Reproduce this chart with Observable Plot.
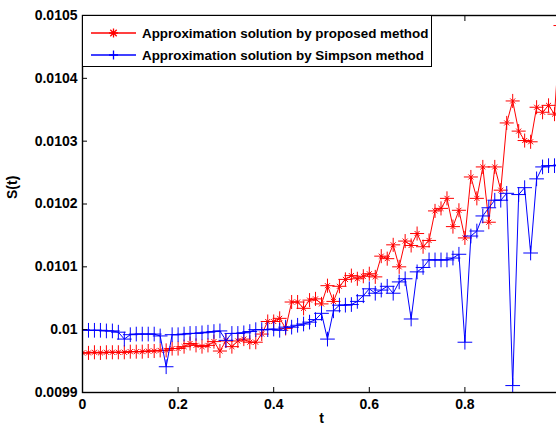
<!DOCTYPE html>
<html>
<head>
<meta charset="utf-8">
<script src="https://cdn.jsdelivr.net/npm/d3@7"></script>
<script src="https://cdn.jsdelivr.net/npm/@observablehq/plot@0.6"></script>
<style>
  html, body { margin: 0; padding: 0; background: #fff; overflow: hidden; }
  #wrap { position: relative; width: 556px; height: 429px; overflow: hidden; background: #fff; }
  #chart { position: absolute; left: 0; top: 0; width: 560px; height: 429px; }
  #chart svg { max-width: none !important; width: 560px; height: 429px; }
  #legend { position: absolute; left: 82px; top: 15px; width: 350px; height: 52px; box-sizing: border-box;
            border: 1.4px solid #000; background: #fff; font: bold 13.4px "Liberation Sans", Arial, sans-serif; color: #000; }
  .row { position: absolute; left: 0; height: 20px; display: flex; align-items: center; white-space: nowrap; }
  .row svg { margin-left: 8px; margin-right: 5px; }
</style>
</head>
<body>
<div id="wrap">
  <div id="chart"></div>
  <div id="legend"></div>
</div>
<script>
// t grid
const tValues = [0, 0.0125, 0.025, 0.0375, 0.05, 0.0625, 0.075, 0.0875, 0.1, 0.1125,
  0.125, 0.1375, 0.15, 0.1625, 0.175, 0.1875, 0.2, 0.2125, 0.225, 0.2375,
  0.25, 0.2625, 0.275, 0.2875, 0.3, 0.3125, 0.325, 0.3375, 0.35, 0.3625,
  0.375, 0.3875, 0.4, 0.4125, 0.425, 0.4375, 0.45, 0.4625, 0.475, 0.4875,
  0.5, 0.5125, 0.525, 0.5375, 0.55, 0.5625, 0.575, 0.5875, 0.6, 0.6125,
  0.625, 0.6375, 0.65, 0.6625, 0.675, 0.6875, 0.7, 0.7125, 0.725, 0.7375,
  0.75, 0.7625, 0.775, 0.7875, 0.8, 0.8125, 0.825, 0.8375, 0.85, 0.8625,
  0.875, 0.8875, 0.9, 0.9125, 0.925, 0.9375, 0.95, 0.9625, 0.975, 0.9875, 1.0];

// Approximation solution by proposed method (red)
const proposedValues = [0.009963, 0.009963, 0.009964, 0.009963, 0.009964, 0.009964, 0.009964, 0.009964, 0.009965, 0.009965,
  0.009965, 0.009966, 0.009966, 0.009967, 0.009967, 0.009970, 0.009970, 0.009973, 0.009978, 0.009975,
  0.009973, 0.009975, 0.009981, 0.009966, 0.009982, 0.009973, 0.009982, 0.009985, 0.009980, 0.009980,
  0.009993, 0.010013, 0.010013, 0.010018, 0.010002, 0.010044, 0.010044, 0.010034, 0.010047, 0.010049,
  0.010041, 0.010070, 0.010045, 0.010069, 0.010080, 0.010086, 0.010081, 0.010085, 0.010089, 0.010084,
  0.010117, 0.010113, 0.010135, 0.010100, 0.010141, 0.010134, 0.010153, 0.010132, 0.010142, 0.010189,
  0.010193, 0.010209, 0.010164, 0.010190, 0.010146, 0.010243, 0.010209, 0.010259, 0.010171, 0.010259,
  0.010222, 0.010329, 0.010364, 0.010316, 0.010301, 0.010299, 0.010354, 0.010346, 0.010357, 0.010343,
  0.010484];

// Approximation solution by Simpson method (blue)
const simpsonValues = [0.010000, 0.009999, 0.009999, 0.009999, 0.009998, 0.009998, 0.009996, 0.009985, 0.009992, 0.009993,
  0.009993, 0.009993, 0.009993, 0.009990, 0.009941, 0.009992, 0.009992, 0.009993, 0.009994, 0.009994,
  0.009995, 0.009996, 0.009997, 0.009998, 0.009983, 0.009994, 0.009994, 0.009995, 0.009997, 0.010000,
  0.010000, 0.010000, 0.010001, 0.009999, 0.010004, 0.010004, 0.010007, 0.010009, 0.010012, 0.010016,
  0.010026, 0.009985, 0.010030, 0.010039, 0.010039, 0.010040, 0.010045, 0.010054, 0.010065, 0.010058,
  0.010063, 0.010069, 0.010058, 0.010076, 0.010081, 0.010017, 0.010092, 0.010099, 0.010111, 0.010111,
  0.010111, 0.010111, 0.010114, 0.010120, 0.009980, 0.010149, 0.010157, 0.010181, 0.010194, 0.010206,
  0.010206, 0.010217, 0.009911, 0.010215, 0.010226, 0.010122, 0.010240, 0.010259, 0.010261, 0.010261,
  0.010262];

const seriesNames = ["Approximation solution by proposed method", "Approximation solution by Simpson method"];
const seriesColors = ["#ff0000", "#0000ff"];
const xTicks = [0, 0.2, 0.4, 0.6, 0.8];
const xTickLabels = ["0", "0.2", "0.4", "0.6", "0.8"];
const yTicks = [0.0099, 0.0100, 0.0101, 0.0102, 0.0103, 0.0104, 0.0105];
const yTickLabels = ["0.0099", "0.01", "0.0101", "0.0102", "0.0103", "0.0104", "0.0105"];
const xLabel = "t";
const yLabel = "S(t)";

const proposed = tValues.map((t, i) => ({t, v: proposedValues[i]}));
const simpson = tValues.map((t, i) => ({t, v: simpsonValues[i]}));

const font = "Liberation Sans, Arial, Helvetica, sans-serif";

const chart = Plot.plot({
  width: 560,
  height: 429,
  marginLeft: 82,
  marginRight: 0,
  marginTop: 15,
  marginBottom: 37,
  style: {fontFamily: font, fontSize: "14px", fontWeight: "bold", color: "#000", background: "#fff", overflow: "hidden", maxWidth: "none"},
  x: {domain: [0, 1]},
  y: {domain: [0.0099, 0.0105]},
  marks: [
    Plot.line(proposed, {x: "t", y: "v", stroke: seriesColors[0], strokeWidth: 1, clip: true}),
    Plot.dot(proposed, {x: "t", y: "v", symbol: "plus", r: 4.6, stroke: seriesColors[0], strokeWidth: 1, clip: true}),
    Plot.dot(proposed, {x: "t", y: "v", symbol: "times", r: 2.4, stroke: seriesColors[0], strokeWidth: 1, clip: true}),
    Plot.line(simpson, {x: "t", y: "v", stroke: seriesColors[1], strokeWidth: 1, clip: true}),
    Plot.dot(simpson, {x: "t", y: "v", symbol: "plus", r: 4.8, stroke: seriesColors[1], strokeWidth: 1, clip: true}),
    Plot.frame({stroke: "#000", strokeWidth: 1.4}),
    Plot.axisX(xTicks, {anchor: "bottom", tickSize: -5, tickPadding: 12, tickFormat: (d, i) => xTickLabels[i], label: null}),
    Plot.axisX(xTicks.concat([1]), {anchor: "top", tickSize: -5, tickFormat: () => "", label: null}),
    Plot.axisY(yTicks, {anchor: "left", tickSize: -5, tickPadding: 10, tickFormat: (d, i) => yTickLabels[i], label: null}),
    Plot.axisY(yTicks, {anchor: "right", tickSize: -5, tickFormat: () => "", label: null}),
    Plot.text([xLabel], {frameAnchor: "bottom", dy: 30, fontSize: 14, fontWeight: "bold"}),
    Plot.text([yLabel], {frameAnchor: "left", dx: -70, dy: -5, rotate: -90, fontSize: 14, fontWeight: "bold"})
  ]
});
document.getElementById("chart").appendChild(chart);

// legend (inside plot area, top-left)
const legend = document.getElementById("legend");
const legendSymbols = [
  '<path d="M22.5,4.5V13.5M18,9H27M19.3,5.8L25.7,12.2M25.7,5.8L19.3,12.2" />',
  '<path d="M22.5,4.5V13.5M18,9H27" />'
];
seriesNames.forEach((name, i) => {
  const row = document.createElement("div");
  row.className = "row";
  row.style.top = (i === 0 ? 7 : 29) + "px";
  row.innerHTML = `<svg width="46" height="18" viewBox="0 0 46 18"><g stroke="${seriesColors[i]}" stroke-width="1.3" fill="none">
    <line x1="0" y1="9" x2="45" y2="9" />${legendSymbols[i]}</g></svg><span>${name}</span>`;
  legend.appendChild(row);
});
</script>
</body>
</html>
